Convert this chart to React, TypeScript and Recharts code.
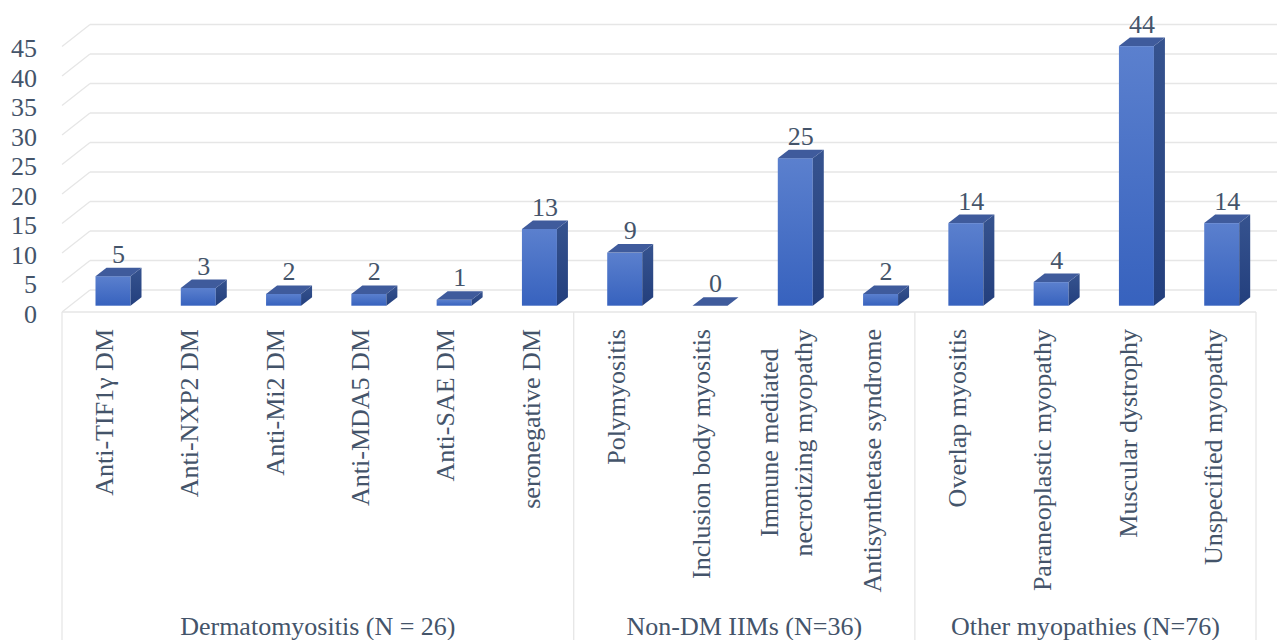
import React from 'react';
import { BarChart, Bar, XAxis, YAxis, CartesianGrid, LabelList } from 'recharts';

const categories = [
  'Anti-TIF1γ DM',
  'Anti-NXP2 DM',
  'Anti-Mi2 DM',
  'Anti-MDA5 DM',
  'Anti-SAE DM',
  'seronegative DM',
  'Polymyositis',
  'Inclusion body myositis',
  'Immune mediated\nnecrotizing myopathy',
  'Antisynthetase syndrome',
  'Overlap myositis',
  'Paraneoplastic myopathy',
  'Muscular dystrophy',
  'Unspecified myopathy',
];
const counts = [5, 3, 2, 2, 1, 13, 9, 0, 25, 2, 14, 4, 44, 14];
const groupNames = ['Dermatomyositis (N = 26)', 'Non-DM IIMs (N=36)', 'Other myopathies (N=76)'];
const groupSizes = [6, 4, 4];
const yTicks = [0, 5, 10, 15, 20, 25, 30, 35, 40, 45];

const data = categories.map((name, i) => ({ name, value: counts[i] }));

// layout
const W = 1277;
const H = 640;
const LEFT = 62;
const RIGHT = 21;
const TOP = 46.5;
const XAXIS_H = 328;
const FLOOR_Y = H - XAXIS_H;
const BAND = (W - LEFT - RIGHT) / categories.length;

// fake 3d depth
const WALL_DX = 28;
const WALL_DY = 22;
const BAR_DX = 8.5;
const BAR_DY = 6.3;
const TOP_DX = 11;
const TOP_DY = 8.5;

const TEXT = '#44546A';
const GRID = '#E6E6E6';
const FS = 26;
const txt = { fontFamily: 'Liberation Serif, Tinos, Times New Roman, serif', fontSize: FS, fill: TEXT };

// start of each group, as a category index
const groupStart: number[] = [];
groupSizes.reduce((acc, n) => {
  groupStart.push(acc);
  return acc + n;
}, 0);

let ctx: CanvasRenderingContext2D | null = null;
const measure = (s: string) => {
  if (!ctx && typeof document !== 'undefined') {
    ctx = document.createElement('canvas').getContext('2d');
  }
  if (ctx) {
    ctx.font = `${FS}px "Liberation Serif"`;
    return ctx.measureText(s).width;
  }
  return s.length * FS * 0.45;
};

const GridLine = (props: any) => {
  const { x1, y1, x2 } = props;
  const bx = x1 + WALL_DX;
  const by = y1 - WALL_DY;
  return (
    <g>
      <line x1={x1} y1={y1} x2={bx} y2={by} stroke={GRID} strokeWidth={1.3} />
      <line x1={bx} y1={by} x2={x2 + WALL_DX} y2={by} stroke={GRID} strokeWidth={1.3} />
    </g>
  );
};

const Bar3D = (props: any) => {
  const { x, y, width, height } = props;
  const fx = x + BAR_DX;
  const fy = y - BAR_DY;
  const bottom = fy + height;
  const side = [
    [fx + width, fy],
    [fx + width + TOP_DX, fy - TOP_DY],
    [fx + width + TOP_DX, bottom - TOP_DY],
    [fx + width, bottom],
  ];
  const top = [
    [fx, fy],
    [fx + TOP_DX, fy - TOP_DY],
    [fx + width + TOP_DX, fy - TOP_DY],
    [fx + width, fy],
  ];
  const pts = (a: number[][]) => a.map((p) => p.join(',')).join(' ');
  return (
    <g>
      {height > 0 && <rect x={fx} y={fy} width={width} height={height} fill="url(#frontGrad)" />}
      {height > 0 && <polygon points={pts(side)} fill="url(#sideGrad)" />}
      <polygon points={pts(top)} fill="#3F5B9C" />
    </g>
  );
};

const ValueLabel = (props: any) => {
  const { x, y, width, value } = props;
  return (
    <text
      x={x + width / 2 + BAR_DX + TOP_DX / 2}
      y={y - BAR_DY - TOP_DY - 5}
      textAnchor="middle"
      style={txt}
    >
      {value}
    </text>
  );
};

const YTick = (props: any) => {
  const { y, payload } = props;
  return (
    <text x={37} y={y + 2} textAnchor="end" dominantBaseline="central" style={txt}>
      {payload.value}
    </text>
  );
};

const CatTick = (props: any) => {
  const { x, payload } = props;
  const idx = payload.index;
  const lines = String(payload.value).split('\n');
  const labelTop = FLOOR_Y + 17;
  const g = groupStart.indexOf(idx);
  const isLast = idx === categories.length - 1;

  let label;
  if (lines.length === 1) {
    label = (
      <g transform={`translate(${x},${labelTop}) rotate(-90)`}>
        <text x={0} y={0} textAnchor="end" dominantBaseline="central" style={txt}>
          {lines[0]}
        </text>
      </g>
    );
  } else {
    const maxW = Math.max(...lines.map(measure));
    label = (
      <g transform={`translate(${x},${labelTop}) rotate(-90)`}>
        {lines.map((l, i) => (
          <text
            key={i}
            x={-maxW / 2}
            y={(i - (lines.length - 1) / 2) * 34}
            textAnchor="middle"
            dominantBaseline="central"
            style={txt}
          >
            {l}
          </text>
        ))}
      </g>
    );
  }

  return (
    <g>
      {label}
      {g >= 0 && (
        <g>
          <line x1={x - BAND / 2} y1={FLOOR_Y} x2={x - BAND / 2} y2={H} stroke={GRID} strokeWidth={1.3} />
          <text
            x={x - BAND / 2 + (groupSizes[g] * BAND) / 2}
            y={H - 14}
            textAnchor="middle"
            dominantBaseline="central"
            style={txt}
          >
            {groupNames[g]}
          </text>
        </g>
      )}
      {isLast && <line x1={x + BAND / 2} y1={FLOOR_Y} x2={x + BAND / 2} y2={H} stroke={GRID} strokeWidth={1.3} />}
    </g>
  );
};

const App: React.FC = () => {
  return (
    <div style={{ position: 'absolute', left: 0, top: 0, background: '#fff' }}>
      <BarChart width={W} height={H} data={data} margin={{ top: TOP, right: RIGHT, bottom: 0, left: 0 }}>
        <defs>
          <linearGradient id="frontGrad" x1="0" y1="0" x2="0" y2="1">
            <stop offset="0%" stopColor="#5B80CE" />
            <stop offset="100%" stopColor="#3762BE" />
          </linearGradient>
          <linearGradient id="sideGrad" x1="0" y1="0" x2="0" y2="1">
            <stop offset="0%" stopColor="#36538F" />
            <stop offset="100%" stopColor="#233F7D" />
          </linearGradient>
        </defs>
        <CartesianGrid vertical={false} horizontal={(p: any) => <GridLine key={p.key} {...p} />} />
        <XAxis
          dataKey="name"
          interval={0}
          height={XAXIS_H}
          tickLine={false}
          tickSize={0}
          tickMargin={0}
          axisLine={{ stroke: GRID, strokeWidth: 1.3 }}
          tick={(p: any) => <CatTick {...p} />}
        />
        <YAxis
          domain={[0, 45]}
          ticks={yTicks}
          width={LEFT}
          axisLine={false}
          tickLine={false}
          tick={(p: any) => <YTick {...p} />}
        />
        <Bar dataKey="value" barSize={35} shape={(p: any) => <Bar3D {...p} />} isAnimationActive={false}>
          <LabelList dataKey="value" content={(p: any) => <ValueLabel {...p} />} />
        </Bar>
      </BarChart>
    </div>
  );
};

export default App;
